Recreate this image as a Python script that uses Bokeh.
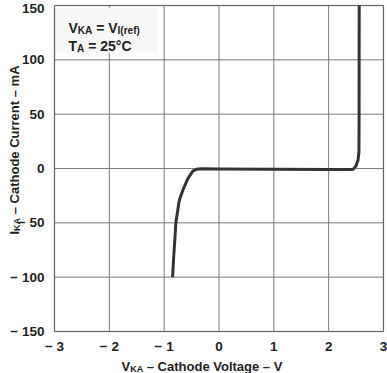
import math
from bokeh.plotting import figure
from bokeh.models import Label, BoxAnnotation, FixedTicker, Range1d
from bokeh.embed import file_html
from bokeh.resources import INLINE

# ---- data ----
voltage = [-0.846, -0.83, -0.786, -0.725, -0.66, -0.57, -0.48, -0.39, -0.30,
           0.0, 1.0, 2.0, 2.40, 2.45, 2.50, 2.535, 2.552, 2.555, 2.556, 2.557]
current = [-100, -84.7, -49.7, -29.5, -20, -9.5, -2.5, -0.4, -0.3,
           -0.5, -0.7, -0.9, -1.0, -0.6, 2.5, 7.5, 15, 50, 100, 150]

x_ticks = [-3, -2, -1, 0, 1, 2, 3]
x_tick_labels = ["− 3", "− 2", "− 1", "0", "1", "2", "3"]
y_ticks = [-150, -100, -50, 0, 50, 100, 150]
y_tick_labels = ["− 150", "− 100", "− 50", "0", "50", "100", "150"]

X_MIN, X_MAX = -3, 3
Y_MIN, Y_MAX = -150, 150

# ---- layout (pixels on the 387x373 canvas) ----
CW, CH = 387, 373
PL, PR, PT, PB = 54, 383, 5, 331   # plotting box edges

FONT = "Liberation Sans"
INK = "#222222"

W = {' ': 278, '(': 333, ')': 333, '=': 584, '–': 556, '−': 584, '°': 400,
     'A': 722, 'C': 722, 'I': 278, 'K': 722, 'T': 611, 'V': 667,
     'a': 556, 'c': 556, 'd': 611, 'e': 556, 'f': 333, 'g': 611, 'h': 611,
     'l': 278, 'm': 889, 'n': 611, 'o': 611, 'r': 389, 't': 333, 'u': 611}


def tw(s, size):
    return sum(W.get(c, 556) for c in s) / 1000.0 * size


# ranges extended so that the plotting box sits at PL..PR / PT..PB
kx = (PR - PL) / (X_MAX - X_MIN)
ky = (PB - PT) / (Y_MAX - Y_MIN)
x_range = Range1d(X_MIN - PL / kx, X_MAX + (CW - PR) / kx)
y_range = Range1d(Y_MIN - (CH - PB) / ky, Y_MAX + PT / ky)

p = figure(frame_width=CW, frame_height=CH, x_range=x_range, y_range=y_range,
           output_backend="svg", toolbar_location=None, title=None,
           min_border=0)
p.background_fill_color = "white"
p.border_fill_color = "white"
p.outline_line_color = None
p.grid.visible = False

for ax, ticks, labels, loc, so in ((p.xaxis, x_ticks, x_tick_labels, Y_MIN, 1),
                                   (p.yaxis, y_ticks, y_tick_labels, X_MIN, 4)):
    ax.fixed_location = loc
    ax.ticker = FixedTicker(ticks=ticks)
    ax.major_label_overrides = {t: l for t, l in zip(ticks, labels)}
    ax.axis_line_color = None
    ax.major_tick_line_color = None
    ax.minor_tick_line_color = None
    ax.major_label_text_font = FONT
    ax.major_label_text_font_size = "13.5px"
    ax.major_label_text_font_style = "bold"
    ax.major_label_text_color = INK
    ax.major_label_standoff = so

# grid lines, limited to the plotting box
p.segment(x0=x_ticks, y0=[Y_MIN] * len(x_ticks), x1=x_ticks, y1=[Y_MAX] * len(x_ticks),
          line_color="#7a7a7a", line_width=1)
p.segment(x0=[X_MIN] * len(y_ticks), y0=y_ticks, x1=[X_MAX] * len(y_ticks), y1=y_ticks,
          line_color="#7a7a7a", line_width=1)

p.line(voltage, current, line_width=3, line_color="#333333", line_join="round")

# faint box behind the condition text
p.add_layout(BoxAnnotation(left=-2.98, right=-1.12, bottom=106, top=148,
                           fill_color="#f8f8f8", fill_alpha=1, line_color=None))

# frame of the plotting box
p.add_layout(BoxAnnotation(left=X_MIN, right=X_MAX, bottom=Y_MIN, top=Y_MAX,
                           fill_alpha=0, line_color="#333333", line_width=1.6))


def runs(x0, y0, parts, angle=0.0):
    """Place text runs (for subscripts); x0, y0 in page pixels (y down)."""
    pos = 0.0
    for text, size, shift in parts:
        lead = len(text) - len(text.lstrip(' '))
        pos += tw(' ' * lead, size)
        t = text.lstrip(' ')
        if angle == 0:
            lx, ly = x0 + pos, y0 - shift
        else:
            lx, ly = x0 - shift, y0 - pos
        p.add_layout(Label(x=lx, y=CH - ly, x_units="screen", y_units="screen",
                           text=t, angle=angle, text_font=FONT,
                           text_font_size=f"{size}px", text_font_style="bold",
                           text_color=INK, text_align="left",
                           text_baseline="alphabetic"))
        pos += tw(t, size)


# condition text
runs(68, 27, [("V", 14, 0), ("KA", 10, -3), (" = V", 14, 0), ("I(ref)", 10, -3)])
runs(68, 45, [("T", 14, 0), ("A", 10, -3), (" = 25°C", 14, 0)])

# axis titles
runs(121, 366, [("V", 13, 0), ("KA", 9, -2.5), (" – Cathode Voltage – V", 13, 0)])
runs(14, 234, [("I", 13, 0), ("KA", 9, -2.5), (" – Cathode Current – mA", 13, 0)], angle=math.pi / 2)

open("out.html", "w").write(file_html(p, INLINE))
